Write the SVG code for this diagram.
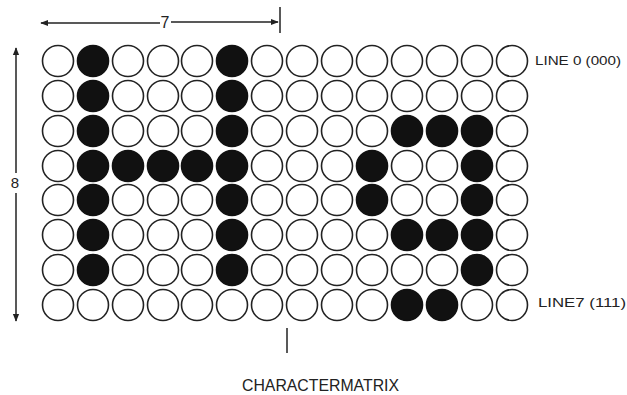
<svg xmlns="http://www.w3.org/2000/svg" width="627" height="395" viewBox="0 0 627 395">
<defs>
<style>
.o{fill:#fff;stroke:#222;stroke-width:1.6}
.f{fill:#111;stroke:#111;stroke-width:1.6}
.ln{stroke:#222;stroke-width:1.5;fill:none}
.t{font-family:"Liberation Sans",Arial,sans-serif;fill:#222}
</style>
<marker id="ah" viewBox="0 0 10 10" refX="9" refY="5" markerWidth="8" markerHeight="8" orient="auto-start-reverse" markerUnits="userSpaceOnUse">
<path d="M0,1 L10,5 L0,9 Z" fill="#222"/>
</marker>
</defs>
<rect width="627" height="395" fill="#fff"/>
<g id="connectors">
<line class="ln" x1="41" y1="23" x2="160" y2="23" marker-start="url(#ah)"/>
<line class="ln" x1="171" y1="22" x2="278" y2="22" marker-end="url(#ah)"/>
<line class="ln" x1="280" y1="7" x2="280" y2="33"/>
<line class="ln" x1="16" y1="48" x2="16" y2="173" marker-start="url(#ah)"/>
<line class="ln" x1="16" y1="193" x2="16" y2="321" marker-end="url(#ah)"/>
<line class="ln" x1="287" y1="328" x2="287" y2="353"/>
</g>
<g id="dim-labels">
<text class="t" x="165" y="28" font-size="16" text-anchor="middle">7</text>
<text class="t" x="15" y="188" font-size="15" text-anchor="middle">8</text>
</g>
<g id="matrix">
<g id="row0">
<circle class="o" cx="58" cy="61" r="15.5"/><circle class="f" cx="93" cy="61" r="15.5"/><circle class="o" cx="128" cy="61" r="15.5"/><circle class="o" cx="163" cy="61" r="15.5"/><circle class="o" cx="197" cy="61" r="15.5"/><circle class="f" cx="232" cy="61" r="15.5"/><circle class="o" cx="267" cy="61" r="15.5"/><circle class="o" cx="302" cy="61" r="15.5"/><circle class="o" cx="337" cy="61" r="15.5"/><circle class="o" cx="372" cy="61" r="15.5"/><circle class="o" cx="407" cy="61" r="15.5"/><circle class="o" cx="442" cy="61" r="15.5"/><circle class="o" cx="477" cy="61" r="15.5"/><circle class="o" cx="512" cy="61" r="15.5"/>
</g>
<g id="row1">
<circle class="o" cx="58" cy="96" r="15.5"/><circle class="f" cx="93" cy="96" r="15.5"/><circle class="o" cx="128" cy="96" r="15.5"/><circle class="o" cx="163" cy="96" r="15.5"/><circle class="o" cx="197" cy="96" r="15.5"/><circle class="f" cx="232" cy="96" r="15.5"/><circle class="o" cx="267" cy="96" r="15.5"/><circle class="o" cx="302" cy="96" r="15.5"/><circle class="o" cx="337" cy="96" r="15.5"/><circle class="o" cx="372" cy="96" r="15.5"/><circle class="o" cx="407" cy="96" r="15.5"/><circle class="o" cx="442" cy="96" r="15.5"/><circle class="o" cx="477" cy="96" r="15.5"/><circle class="o" cx="512" cy="96" r="15.5"/>
</g>
<g id="row2">
<circle class="o" cx="58" cy="131" r="15.5"/><circle class="f" cx="93" cy="131" r="15.5"/><circle class="o" cx="128" cy="131" r="15.5"/><circle class="o" cx="163" cy="131" r="15.5"/><circle class="o" cx="197" cy="131" r="15.5"/><circle class="f" cx="232" cy="131" r="15.5"/><circle class="o" cx="267" cy="131" r="15.5"/><circle class="o" cx="302" cy="131" r="15.5"/><circle class="o" cx="337" cy="131" r="15.5"/><circle class="o" cx="372" cy="131" r="15.5"/><circle class="f" cx="407" cy="131" r="15.5"/><circle class="f" cx="442" cy="131" r="15.5"/><circle class="f" cx="477" cy="131" r="15.5"/><circle class="o" cx="512" cy="131" r="15.5"/>
</g>
<g id="row3">
<circle class="o" cx="58" cy="166" r="15.5"/><circle class="f" cx="93" cy="166" r="15.5"/><circle class="f" cx="128" cy="166" r="15.5"/><circle class="f" cx="163" cy="166" r="15.5"/><circle class="f" cx="197" cy="166" r="15.5"/><circle class="f" cx="232" cy="166" r="15.5"/><circle class="o" cx="267" cy="166" r="15.5"/><circle class="o" cx="302" cy="166" r="15.5"/><circle class="o" cx="337" cy="166" r="15.5"/><circle class="f" cx="372" cy="166" r="15.5"/><circle class="o" cx="407" cy="166" r="15.5"/><circle class="o" cx="442" cy="166" r="15.5"/><circle class="f" cx="477" cy="166" r="15.5"/><circle class="o" cx="512" cy="166" r="15.5"/>
</g>
<g id="row4">
<circle class="o" cx="58" cy="200" r="15.5"/><circle class="f" cx="93" cy="200" r="15.5"/><circle class="o" cx="128" cy="200" r="15.5"/><circle class="o" cx="163" cy="200" r="15.5"/><circle class="o" cx="197" cy="200" r="15.5"/><circle class="f" cx="232" cy="200" r="15.5"/><circle class="o" cx="267" cy="200" r="15.5"/><circle class="o" cx="302" cy="200" r="15.5"/><circle class="o" cx="337" cy="200" r="15.5"/><circle class="f" cx="372" cy="200" r="15.5"/><circle class="o" cx="407" cy="200" r="15.5"/><circle class="o" cx="442" cy="200" r="15.5"/><circle class="f" cx="477" cy="200" r="15.5"/><circle class="o" cx="512" cy="200" r="15.5"/>
</g>
<g id="row5">
<circle class="o" cx="58" cy="235" r="15.5"/><circle class="f" cx="93" cy="235" r="15.5"/><circle class="o" cx="128" cy="235" r="15.5"/><circle class="o" cx="163" cy="235" r="15.5"/><circle class="o" cx="197" cy="235" r="15.5"/><circle class="f" cx="232" cy="235" r="15.5"/><circle class="o" cx="267" cy="235" r="15.5"/><circle class="o" cx="302" cy="235" r="15.5"/><circle class="o" cx="337" cy="235" r="15.5"/><circle class="o" cx="372" cy="235" r="15.5"/><circle class="f" cx="407" cy="235" r="15.5"/><circle class="f" cx="442" cy="235" r="15.5"/><circle class="f" cx="477" cy="235" r="15.5"/><circle class="o" cx="512" cy="235" r="15.5"/>
</g>
<g id="row6">
<circle class="o" cx="58" cy="270" r="15.5"/><circle class="f" cx="93" cy="270" r="15.5"/><circle class="o" cx="128" cy="270" r="15.5"/><circle class="o" cx="163" cy="270" r="15.5"/><circle class="o" cx="197" cy="270" r="15.5"/><circle class="f" cx="232" cy="270" r="15.5"/><circle class="o" cx="267" cy="270" r="15.5"/><circle class="o" cx="302" cy="270" r="15.5"/><circle class="o" cx="337" cy="270" r="15.5"/><circle class="o" cx="372" cy="270" r="15.5"/><circle class="o" cx="407" cy="270" r="15.5"/><circle class="o" cx="442" cy="270" r="15.5"/><circle class="f" cx="477" cy="270" r="15.5"/><circle class="o" cx="512" cy="270" r="15.5"/>
</g>
<g id="row7">
<circle class="o" cx="58" cy="305" r="15.5"/><circle class="o" cx="93" cy="305" r="15.5"/><circle class="o" cx="128" cy="305" r="15.5"/><circle class="o" cx="163" cy="305" r="15.5"/><circle class="o" cx="197" cy="305" r="15.5"/><circle class="o" cx="232" cy="305" r="15.5"/><circle class="o" cx="267" cy="305" r="15.5"/><circle class="o" cx="302" cy="305" r="15.5"/><circle class="o" cx="337" cy="305" r="15.5"/><circle class="o" cx="372" cy="305" r="15.5"/><circle class="f" cx="407" cy="305" r="15.5"/><circle class="f" cx="442" cy="305" r="15.5"/><circle class="o" cx="477" cy="305" r="15.5"/><circle class="o" cx="512" cy="305" r="15.5"/>
</g>
</g>
<g id="line-labels">
<text class="t" x="535" y="65" font-size="13" textLength="86" lengthAdjust="spacingAndGlyphs">LINE 0 (000)</text>
<text class="t" x="538" y="307" font-size="13" textLength="88" lengthAdjust="spacingAndGlyphs">LINE7 (111)</text>
</g>
<g id="caption">
<text class="t" x="242" y="391" font-size="17" textLength="157" lengthAdjust="spacingAndGlyphs">CHARACTERMATRIX</text>
</g>
</svg>
